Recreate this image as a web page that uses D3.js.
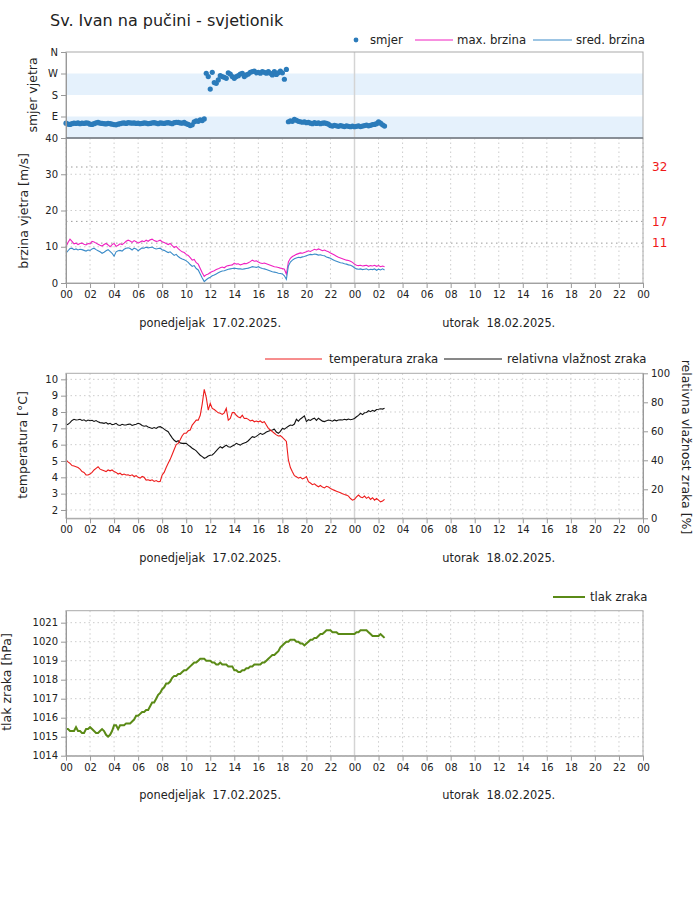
<!DOCTYPE html>
<html>
<head>
<meta charset="utf-8">
<script src="https://cdn.jsdelivr.net/npm/d3@7"></script>
<style>
body { margin: 0; background: #fff; }
svg { font-family: "DejaVu Sans", sans-serif; }
</style>
</head>
<body>
<svg id="chart" width="700" height="908"></svg>
<script>
// 10-minute readings, 17.02.2025 00:00 -> 18.02.2025 02:30 (one row per hour)
const windDir = [
  62, 58, 57, 60, 62, 61,
  63, 60, 62, 61, 63, 62,
  58, 57, 60, 63, 65, 62,
  61, 60, 59, 61, 60, 58,
  56, 55, 58, 60, 62, 63,
  61, 64, 63, 62, 63, 61,
  62, 60, 61, 63, 62, 60,
  61, 63, 64, 62, 60, 63,
  62, 61, 63, 64, 62, 60,
  64, 66, 65, 63, 62, 66,
  60, 57, 52, 55, 68, 72,
  70, 76, 73, 80, 271, 257,
  205, 275, 232, 229, 243, 261,
  257, 254, 250, 273, 268, 257,
  250, 257, 261, 268, 271, 257,
  264, 268, 275, 278, 280, 273,
  275, 271, 278, 275, 271, 278,
  271, 264, 278, 266, 273, 280,
  273, 246, 287, 68, 72, 70,
  78, 74, 70, 68, 66, 68,
  64, 66, 62, 60, 64, 61,
  63, 60, 62, 63, 61, 58,
  52, 50, 53, 51, 49, 52,
  50, 48, 51, 49, 47, 50,
  47, 49, 51, 48, 50, 52,
  54, 51, 53, 56, 57, 60,
  68, 62, 55, 50
];

const windMax = [
  10.0, 11.2, 12.1, 11.5, 10.8, 11.0,
  10.6, 10.9, 11.0, 10.7, 10.5, 10.9,
  10.8, 11.5, 11.3, 11.0, 10.7, 10.4,
  10.2, 10.6, 10.9, 10.5, 10.0, 10.6,
  10.9, 10.1, 10.4, 10.8, 10.6, 11.0,
  11.5, 11.8, 11.6, 11.2, 11.7, 11.4,
  11.0, 11.3, 11.6, 11.4, 11.8, 11.5,
  11.9, 12.1, 11.7, 11.5, 11.6, 11.8,
  11.4, 11.2, 10.9, 10.6, 10.9, 10.3,
  9.8, 10.1, 9.5, 9.0, 8.6, 8.4,
  7.9, 7.6, 7.0, 6.3, 6.5, 5.6,
  5.2, 4.0, 2.8, 1.8, 2.3, 2.5,
  2.9, 3.2, 3.4, 3.7, 3.9, 4.2,
  4.4, 4.2, 4.6, 4.8, 4.9, 5.0,
  5.5, 5.2, 5.3, 5.0, 5.2, 5.4,
  5.3, 5.6, 5.9, 6.3, 6.0, 6.1,
  5.8, 5.5, 5.4, 5.5, 5.3, 5.1,
  4.9, 4.7, 4.5, 4.4, 4.3, 4.1,
  4.0, 3.8, 2.4, 5.8, 6.8, 7.3,
  7.6, 7.9, 8.1, 8.3, 8.2, 8.4,
  8.6, 8.9, 8.7, 9.0, 9.3, 9.1,
  9.4, 9.2, 8.9, 9.1, 8.8, 8.6,
  8.3, 8.0, 7.7, 7.4, 7.1, 6.9,
  6.7, 6.5, 6.3, 6.2, 6.0, 5.7,
  5.2, 4.9, 4.8, 4.9, 4.7, 4.8,
  4.9, 4.6, 4.8, 4.7, 4.9, 4.6,
  4.8, 4.5, 4.7, 4.5
];

const windAvg = [
  8.2, 8.9, 9.5, 9.6, 9.2, 9.4,
  9.1, 9.3, 9.2, 9.0, 8.8, 9.1,
  9.0, 9.4, 9.6, 9.2, 8.9, 8.6,
  8.2, 8.5, 8.9, 9.2, 8.7, 8.2,
  7.4, 8.6, 8.9, 9.0, 8.8, 9.3,
  9.6, 9.7, 9.5, 9.1, 9.6, 9.4,
  8.9, 9.3, 9.7, 9.6, 9.9, 9.7,
  9.8, 9.9, 9.6, 9.4, 9.5, 9.6,
  9.2, 9.0, 8.7, 8.4, 8.6, 8.1,
  7.6, 7.9, 7.3, 6.9, 6.6, 6.4,
  6.1, 5.7, 5.1, 4.6, 4.8, 4.0,
  3.6, 2.5, 1.4, 0.4, 0.9, 1.3,
  1.6, 2.0, 2.2, 2.5, 2.8, 3.1,
  3.3, 3.4, 3.6, 3.8, 3.9, 4.0,
  4.1, 4.0, 3.9, 3.9, 3.8, 3.9,
  4.0, 4.1, 4.3, 4.5, 4.4, 4.3,
  4.5, 4.2, 4.0, 3.9, 3.7, 3.5,
  3.3, 3.1, 3.0, 2.9, 2.7, 2.6,
  2.5, 2.0, 1.0, 4.7, 5.8, 6.3,
  6.7, 6.9, 7.1, 7.0, 7.2, 7.3,
  7.5, 7.7, 7.9, 7.8, 8.0, 7.9,
  7.7, 7.8, 7.6, 7.5, 7.2, 7.0,
  6.8, 6.5, 6.2, 6.0, 5.8, 5.6,
  5.5, 5.3, 5.2, 5.0, 4.9, 4.6,
  4.2, 3.9, 3.8, 3.9, 3.7, 3.8,
  3.9, 3.6, 3.8, 3.7, 3.9, 3.5,
  3.8, 3.6, 3.9, 3.6
];

const temperature = [
  5.06, 4.95, 4.85, 4.72, 4.69, 4.65,
  4.6, 4.5, 4.35, 4.3, 4.15, 4.14,
  4.2, 4.3, 4.45, 4.55, 4.65, 4.5,
  4.45, 4.4, 4.35, 4.45, 4.4, 4.45,
  4.35, 4.3, 4.2, 4.25, 4.15, 4.2,
  4.14, 4.15, 4.1, 4.15, 4.05, 4.1,
  4.0, 3.95, 4.05, 4.0, 3.83, 3.85,
  3.8, 3.85, 3.75, 3.8, 3.73, 3.75,
  4.14, 4.3, 4.6, 4.86, 5.1, 5.4,
  5.7, 6.0, 6.08, 6.3, 6.55, 6.7,
  6.7, 6.85, 6.9, 7.2, 7.35, 7.5,
  7.5, 7.8, 8.5, 9.39, 8.9, 8.12,
  8.53, 8.22, 8.15, 8.05, 7.95, 7.92,
  7.85, 7.95, 8.22, 7.5, 7.6, 7.96,
  7.96, 7.8, 7.7, 7.65, 7.8, 7.6,
  7.61, 7.55, 7.45, 7.5, 7.4, 7.45,
  7.4, 7.45, 7.35, 7.4, 7.2, 7.0,
  6.9, 6.8, 6.7, 6.6, 6.53, 6.55,
  6.45, 6.33, 6.2, 5.06, 4.6, 4.34,
  4.1, 4.04, 3.95, 4.0, 3.9, 3.95,
  4.04, 3.73, 3.65, 3.55, 3.6, 3.5,
  3.42, 3.5, 3.4, 3.35, 3.45, 3.4,
  3.32, 3.25, 3.2, 3.15, 3.1, 3.05,
  3.0, 2.95, 2.91, 2.85, 2.7, 2.6,
  2.65, 2.8, 2.91, 2.8, 2.75, 2.85,
  2.71, 2.8, 2.65, 2.75, 2.6, 2.7,
  2.6, 2.5, 2.55, 2.65
];

const humidity = [
  64.3, 64.8, 66.0, 67.5, 68.3, 67.8,
  68.0, 68.3, 67.5, 67.9, 67.0, 67.8,
  67.3, 67.6, 66.8, 67.4, 66.5, 66.0,
  65.8, 65.5, 66.0, 65.0, 65.5, 64.6,
  64.8, 65.5, 64.3, 64.0, 64.8, 64.3,
  64.3, 64.8, 65.0, 64.0, 64.5, 64.9,
  65.5, 65.0, 64.0, 63.5, 63.8, 63.0,
  62.5, 62.0, 62.6, 62.0, 63.0, 63.2,
  62.5, 61.5, 60.5, 59.7, 57.5, 55.5,
  53.8, 52.8, 53.5, 52.0, 51.7, 51.7,
  51.7, 50.5, 49.5, 48.3, 47.5, 46.5,
  45.0, 43.5, 42.5, 41.4, 42.0, 43.0,
  43.5, 43.7, 45.0, 46.5, 48.0, 49.4,
  48.5, 49.5, 50.5, 49.4, 49.0, 49.8,
  50.5, 51.7, 51.0, 50.5, 51.5, 52.0,
  52.5, 53.5, 55.0, 56.3, 55.8, 56.5,
  57.5, 58.6, 57.8, 58.5, 59.5, 60.0,
  60.5, 60.9, 61.5, 59.5, 58.6, 60.0,
  62.0, 61.5, 62.5, 63.5, 64.3, 64.0,
  65.0, 68.3, 67.0, 68.5, 69.5, 70.6,
  66.7, 68.0, 67.5, 68.5, 69.0, 67.5,
  69.0, 68.0, 67.0, 66.7, 67.2, 67.8,
  67.5, 67.0, 67.8, 67.2, 67.8, 68.0,
  67.8, 68.3, 67.9, 68.5, 68.0, 68.3,
  68.8, 70.0, 71.0, 72.4, 71.5, 72.8,
  73.0, 74.2, 73.5, 74.5, 73.8, 75.0,
  75.2, 75.5, 75.3, 75.9
];

const pressure = [
  1015.4, 1015.4, 1015.3, 1015.3, 1015.3, 1015.5,
  1015.3, 1015.3, 1015.2, 1015.2, 1015.4, 1015.4,
  1015.5, 1015.4, 1015.3, 1015.2, 1015.2, 1015.3,
  1015.4, 1015.3, 1015.1, 1015.0, 1015.1, 1015.3,
  1015.6, 1015.6, 1015.4, 1015.6, 1015.6, 1015.6,
  1015.7, 1015.7, 1015.7, 1015.8, 1015.9, 1016.1,
  1016.1, 1016.2, 1016.3, 1016.3, 1016.4, 1016.4,
  1016.6, 1016.8, 1016.8, 1017.0, 1017.2, 1017.3,
  1017.5, 1017.6, 1017.8, 1017.8, 1017.9, 1018.1,
  1018.2, 1018.2, 1018.3, 1018.3, 1018.4, 1018.5,
  1018.5, 1018.6, 1018.7, 1018.8, 1018.9, 1018.9,
  1019.0, 1019.1, 1019.1, 1019.1, 1019.0, 1019.0,
  1019.0, 1018.9, 1018.9, 1018.8, 1018.8, 1018.9,
  1018.8, 1018.8, 1018.8, 1018.7, 1018.7, 1018.7,
  1018.5, 1018.5, 1018.4, 1018.4, 1018.5, 1018.5,
  1018.6, 1018.6, 1018.7, 1018.7, 1018.8, 1018.8,
  1018.8, 1018.8, 1018.9, 1018.9, 1019.0, 1019.1,
  1019.2, 1019.3, 1019.3, 1019.4, 1019.5, 1019.7,
  1019.8, 1019.9, 1020.0, 1020.0, 1020.1, 1020.1,
  1020.1, 1020.0, 1020.0, 1019.9, 1019.9, 1019.8,
  1019.9, 1020.0, 1020.1, 1020.1, 1020.2, 1020.2,
  1020.3, 1020.4, 1020.4, 1020.5, 1020.6, 1020.6,
  1020.6, 1020.5, 1020.5, 1020.5, 1020.4, 1020.4,
  1020.4, 1020.4, 1020.4, 1020.4, 1020.4, 1020.4,
  1020.4, 1020.5, 1020.5, 1020.6, 1020.6, 1020.6,
  1020.6, 1020.5, 1020.4, 1020.3, 1020.3, 1020.3,
  1020.3, 1020.4, 1020.3, 1020.2
];

const dirTicks = [90, 180, 270, 360];
const dirLabels = ["E", "S", "W", "N"];
const thresholds = [11, 17, 32];
const dayLabels = ["ponedjeljak  17.02.2025.", "utorak  18.02.2025."];

const svg = d3.select("#chart");
const left = 66, right = 643;
const start = new Date(Date.UTC(2025, 1, 17));
const times = windMax.map((_, i) => new Date(Date.UTC(2025, 1, 17, 0, i * 10)));

const x = d3.scaleUtc()
  .domain([start, new Date(Date.UTC(2025, 1, 19))])
  .range([left, right]);
const hourTicks = x.ticks(d3.utcHour.every(2));
const midnight = new Date(Date.UTC(2025, 1, 18));

const yDir = d3.scaleLinear().domain([0, 360]).range([138, 52]);
const ySpeed = d3.scaleLinear().domain([0, 40]).range([283, 138]);
const yTemp = d3.scaleLinear().domain([1.49, 10.37]).range([518.3, 373.3]);
const yHum = d3.scaleLinear().domain([0, 100]).range([518.3, 373.3]);
const yPres = d3.scaleLinear().domain([1014, 1021.63]).range([755.7, 610.7]);

svg.append("text")
  .attr("x", 50).attr("y", 26)
  .style("font-size", "16px").attr("fill", "#222")
  .text("Sv. Ivan na pučini - svjetionik");

function styleAxis(g) {
  g.selectAll("path.domain").attr("stroke", "#999");
  g.selectAll(".tick line").attr("stroke", "#999");
  g.selectAll(".tick text").attr("fill", "#222")
    .style("font-size", "10px").style("font-family", "DejaVu Sans");
}

// vertical grid + midnight line + bottom axis + day labels
function timeFrame(y0, y1, dayY) {
  svg.append("g").selectAll("line")
    .data(hourTicks)
    .join("line")
    .attr("x1", d => x(d)).attr("x2", d => x(d))
    .attr("y1", y0).attr("y2", y1)
    .attr("stroke", "#ccc").attr("stroke-dasharray", "1.5,3");
  svg.append("line")
    .attr("x1", x(midnight)).attr("x2", x(midnight))
    .attr("y1", y0).attr("y2", y1)
    .attr("stroke", "#d4d4d4").attr("stroke-width", 1.5);

  svg.append("g")
    .attr("transform", `translate(0,${y1})`)
    .call(d3.axisBottom(x).tickValues(hourTicks).tickFormat(d3.utcFormat("%H")).tickSize(5).tickSizeOuter(0))
    .call(styleAxis);

  svg.selectAll(null)
    .data(dayLabels)
    .enter()
    .append("text")
    .attr("x", (d, i) => x(new Date(Date.UTC(2025, 1, 17 + i, 12))))
    .attr("y", dayY)
    .attr("text-anchor", "middle")
    .style("font-size", "11.4px").style("white-space", "pre")
    .attr("fill", "#222")
    .text(d => d);
}

function hGrid(scale, values) {
  svg.append("g").selectAll("line")
    .data(values)
    .join("line")
    .attr("x1", left).attr("x2", right)
    .attr("y1", d => scale(d)).attr("y2", d => scale(d))
    .attr("stroke", "#ccc").attr("stroke-dasharray", "1.5,3");
}

function frame(y0, y1) {
  svg.append("rect")
    .attr("x", left).attr("y", y0)
    .attr("width", right - left).attr("height", y1 - y0)
    .attr("fill", "none").attr("stroke", "#aaa");
}

function axisTitle(text, cx, cy, rot) {
  svg.append("text")
    .attr("transform", `translate(${cx},${cy}) rotate(${rot})`)
    .attr("text-anchor", "middle").attr("dy", "0.35em")
    .style("font-size", "12.5px").attr("fill", "#222")
    .text(text);
}

function legendText(tx, ty, label) {
  svg.append("text").attr("x", tx).attr("y", ty)
    .style("font-size", "11.7px").attr("fill", "#222").text(label);
}

// ---------- wind direction ----------
svg.append("g").selectAll("rect")
  .data([[0, 90], [180, 270]])
  .join("rect")
  .attr("x", left).attr("width", right - left)
  .attr("y", d => yDir(d[1])).attr("height", d => yDir(d[0]) - yDir(d[1]))
  .attr("fill", "#e5f1fc");

svg.append("line")
  .attr("x1", x(midnight)).attr("x2", x(midnight))
  .attr("y1", 52).attr("y2", 138)
  .attr("stroke", "#d4d4d4").attr("stroke-width", 1.5);

svg.append("g").selectAll("circle")
  .data(windDir)
  .join("circle")
  .attr("cx", (d, i) => x(times[i]))
  .attr("cy", d => yDir(d))
  .attr("r", 2.6)
  .attr("fill", "#2b7bba");

frame(52, 138);
svg.append("g")
  .attr("transform", `translate(${left},0)`)
  .call(d3.axisLeft(yDir).tickValues(dirTicks).tickFormat((d, i) => dirLabels[i]).tickSize(5).tickSizeOuter(0))
  .call(styleAxis);
axisTitle("smjer vjetra", 33, 95, -90);

// ---------- wind speed ----------
timeFrame(138, 283, 327);
hGrid(ySpeed, [10, 20, 30]);
svg.append("g").selectAll("line")
  .data(thresholds)
  .join("line")
  .attr("x1", left).attr("x2", right)
  .attr("y1", d => ySpeed(d)).attr("y2", d => ySpeed(d))
  .attr("stroke", "#999").attr("stroke-dasharray", "1.5,3.5");
svg.append("g").selectAll("text")
  .data(thresholds)
  .join("text")
  .attr("x", 652).attr("y", d => ySpeed(d)).attr("dy", "0.35em")
  .style("font-size", "12px").attr("fill", "#f01818")
  .text(d => d);

svg.append("path")
  .datum(windMax)
  .attr("fill", "none").attr("stroke", "#f020c0").attr("stroke-width", 1.1)
  .attr("d", d3.line().x((d, i) => x(times[i])).y(d => ySpeed(d)));
svg.append("path")
  .datum(windAvg)
  .attr("fill", "none").attr("stroke", "#3a8bc8").attr("stroke-width", 1.1)
  .attr("d", d3.line().x((d, i) => x(times[i])).y(d => ySpeed(d)));

frame(138, 283);
svg.append("line")
  .attr("x1", left).attr("x2", right).attr("y1", 138).attr("y2", 138)
  .attr("stroke", "#56606e").attr("stroke-width", 1.2);
svg.append("g")
  .attr("transform", `translate(${left},0)`)
  .call(d3.axisLeft(ySpeed).tickValues([0, 10, 20, 30, 40]).tickSize(5).tickSizeOuter(0))
  .call(styleAxis);
axisTitle("brzina vjetra [m/s]", 23.5, 211, -90);

// legend
svg.append("circle").attr("cx", 356).attr("cy", 40).attr("r", 2.4).attr("fill", "#2b7bba");
legendText(370, 44, "smjer");
svg.append("line").attr("x1", 415).attr("x2", 453).attr("y1", 40).attr("y2", 40).attr("stroke", "#f020c0");
legendText(457, 44, "max. brzina");
svg.append("line").attr("x1", 533).attr("x2", 572).attr("y1", 40).attr("y2", 40).attr("stroke", "#3a8bc8");
legendText(576, 44, "sred. brzina");

// ---------- temperature & humidity ----------
timeFrame(373.3, 518.3, 562);
hGrid(yTemp, d3.range(2, 11));

svg.append("path")
  .datum(humidity)
  .attr("fill", "none").attr("stroke", "#111").attr("stroke-width", 1.1)
  .attr("d", d3.line().x((d, i) => x(times[i])).y(d => yHum(d)));
svg.append("path")
  .datum(temperature)
  .attr("fill", "none").attr("stroke", "#ee1c1c").attr("stroke-width", 1.1)
  .attr("d", d3.line().x((d, i) => x(times[i])).y(d => yTemp(d)));

frame(373.3, 518.3);
svg.append("g")
  .attr("transform", `translate(${left},0)`)
  .call(d3.axisLeft(yTemp).tickValues(d3.range(2, 11)).tickSize(5).tickSizeOuter(0))
  .call(styleAxis);
svg.append("g")
  .attr("transform", `translate(${right},0)`)
  .call(d3.axisRight(yHum).tickValues([0, 20, 40, 60, 80, 100]).tickSize(5).tickSizeOuter(0))
  .call(styleAxis);
axisTitle("temperatura [°C]", 23, 445, -90);
axisTitle("relativna vlažnost zraka [%]", 686, 447, 90);

svg.append("line").attr("x1", 265).attr("x2", 322).attr("y1", 359).attr("y2", 359).attr("stroke", "#ee1c1c");
legendText(329, 363, "temperatura zraka");
svg.append("line").attr("x1", 444).attr("x2", 502).attr("y1", 359).attr("y2", 359).attr("stroke", "#111");
legendText(507, 363, "relativna vlažnost zraka");

// ---------- pressure ----------
timeFrame(610.7, 755.7, 799);
hGrid(yPres, d3.range(1014, 1022));

svg.append("path")
  .datum(pressure)
  .attr("fill", "none").attr("stroke", "#5a8a16").attr("stroke-width", 2)
  .attr("d", d3.line().x((d, i) => x(times[i])).y(d => yPres(d)));

frame(610.7, 755.7);
svg.append("g")
  .attr("transform", `translate(${left},0)`)
  .call(d3.axisLeft(yPres).tickValues(d3.range(1014, 1022)).tickFormat(d3.format("d")).tickSize(5).tickSizeOuter(0))
  .call(styleAxis);
axisTitle("tlak zraka [hPa]", 7, 682, -90);

svg.append("line").attr("x1", 553).attr("x2", 585).attr("y1", 597).attr("y2", 597).attr("stroke", "#5a8a16").attr("stroke-width", 2);
legendText(590, 601, "tlak zraka");
</script>
</body>
</html>
